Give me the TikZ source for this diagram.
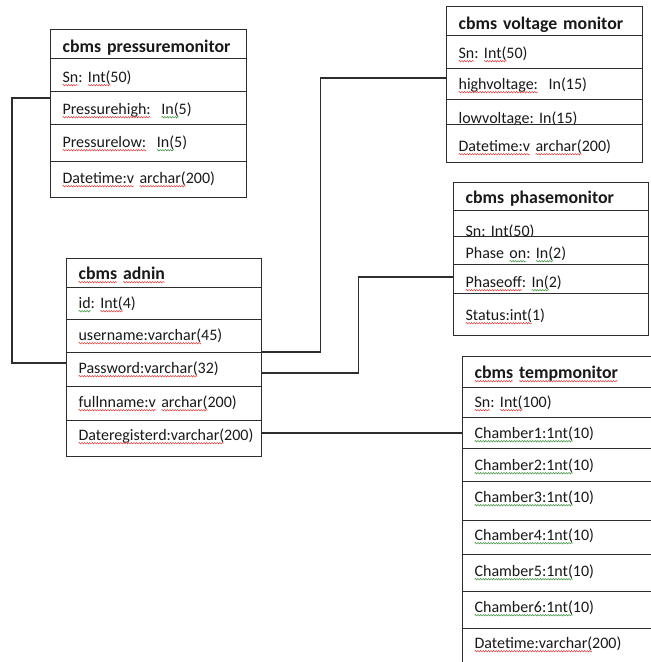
\documentclass[tikz,border=0pt]{standalone}
\usepackage{fontspec}
\setmainfont{Carlito}
\frenchspacing
\usetikzlibrary{decorations.pathmorphing}

\definecolor{linecol}{RGB}{45,45,45}
\definecolor{txtcol}{RGB}{25,25,25}
\definecolor{spellred}{RGB}{215,70,70}
\definecolor{spellgreen}{RGB}{70,150,70}

\tikzset{
  trow/.style={draw=linecol, fill=white, line width=1.2pt, inner xsep=12pt,
    inner ysep=0pt, anchor=north west, align=left, text=txtcol,
    font=\fontsize{16}{19}\selectfont},
  thead/.style={trow, font=\fontsize{17.8}{20}\selectfont\bfseries},
  link/.style={draw=linecol, line width=1.2pt},
  word/.style={inner sep=0pt, outer sep=0pt, text width={}, text height={},
    text depth={}, minimum width=0pt, minimum height=0pt, anchor=center},
  squig/.style={overlay, line width=0.55pt, decorate,
    decoration={snake, amplitude=0.7pt, segment length=2.6pt}}
}

% wavy underline under a word
\newcommand\sqr[1]{\tikz[baseline=(sw.base)]{\node[word](sw){#1};%
  \draw[squig, spellred] ([yshift=-2.6pt]sw.base west) -- ([yshift=-2.6pt]sw.base east);}}
\newcommand\sqg[1]{\tikz[baseline=(sw.base)]{\node[word](sw){#1};%
  \draw[squig, spellgreen] ([yshift=-2.6pt]sw.base west) -- ([yshift=-2.6pt]sw.base east);}}

% table row: name, left x, top y, width, height, baseline offset, text
\newcommand\trow[8][trow]{%
  \pgfmathsetmacro\rowtw{#5-24}%
  \pgfmathsetmacro\rowtd{#6-#7}%
  \node[#1, minimum width=#5pt, minimum height=#6pt, text width=\rowtw pt,
    text height=#7pt, text depth=\rowtd pt] (#2) at (#3,#4) {#8};}

\begin{document}
\begin{tikzpicture}[x=1pt, y=-1pt]
\useasboundingbox (0,0) rectangle (651,662);
\clip (0,0) rectangle (651,662);
\fill[white] (0,0) rectangle (651,662);

% cbms pressuremonitor
\trow[thead]{p0}{50}{29}{196}{29}{23}{cbms pressuremonitor}
\trow{p1}{50}{58}{196}{33}{24}{\sqr{Sn}: \sqr{Int(}50)}
\trow{p2}{50}{91}{196}{33}{23}{\sqr{Pressurehigh:}\ \ \sqg{In(}5)}
\trow{p3}{50}{124}{196}{37}{23}{\sqr{Pressurelow:}\ \ \sqg{In(}5)}
\trow{p4}{50}{161}{196}{36}{22}{\sqr{Datetime:v} \sqr{archar(}200)}

% cbms voltage monitor
\trow[thead]{v0}{446}{6}{196}{29}{23}{cbms voltage monitor}
\trow{v1}{446}{35}{196}{33}{23}{\sqr{Sn}: \sqr{Int(}50)}
\trow{v2}{446}{68}{196}{31}{21}{\sqr{highvoltage:}\ \ In(15)}
\trow{v3}{446}{99}{196}{25}{24}{lowvoltage: In(15)}
\trow{v4}{446}{124}{196}{38}{27}{\sqr{Datetime:v} \sqr{archar(}200)}

% cbms phasemonitor
\trow[thead]{ph0}{453}{182}{195}{28}{21}{cbms phasemonitor}
\trow{ph1}{453}{210}{195}{26}{26}{Sn: Int(50)}
\trow{ph2}{453}{236}{195}{28}{22}{Phase \sqg{on}: \sqg{In(}2)}
\trow{ph3}{453}{264}{195}{29}{23}{\sqr{Phaseoff}: \sqg{In(}2)}
\trow{ph4}{453}{293}{195}{42}{27}{\sqr{Status:int(}1)}

% cbms adnin
\trow[thead]{a0}{66}{258}{195}{29}{21}{\sqr{cbms} \sqr{adnin}}
\trow{a1}{66}{287}{195}{32}{21}{\sqg{id}: \sqr{Int(}4)}
\trow{a2}{66}{319}{195}{33}{21}{\sqr{username:varchar(}45)}
\trow{a3}{66}{352}{195}{34}{21}{\sqr{Password:varchar(}32)}
\trow{a4}{66}{386}{195}{34}{21}{\sqr{fullnname:v} \sqr{archar(}200)}
\trow{a5}{66}{420}{195}{36}{20}{\sqr{Dateregisterd:varchar(}200)}

% cbms tempmonitor
\trow[thead]{t0}{462}{356}{250}{31}{22}{\sqr{cbms} \sqr{tempmonitor}}
\trow{t1}{462}{387}{250}{30}{20}{\sqr{Sn}: \sqr{Int(}100)}
\trow{t2}{462}{417}{250}{31}{21}{\sqg{Chamber1:1nt(}10)}
\trow{t3}{462}{448}{250}{33}{22}{\sqg{Chamber2:1nt(}10)}
\trow{t4}{462}{481}{250}{39}{21}{\sqg{Chamber3:1nt(}10)}
\trow{t5}{462}{520}{250}{34}{20}{\sqg{Chamber4:1nt(}10)}
\trow{t6}{462}{554}{250}{37}{22}{\sqg{Chamber5:1nt(}10)}
\trow{t7}{462}{591}{250}{37}{21}{\sqg{Chamber6:1nt(}10)}
\trow{t8}{462}{628}{250}{52}{20}{\sqr{Datetime:varchar(}200)}

% relationships
\draw[link] ([yshift=-7pt]p2.north west) -- ++(-38,0) |- ([yshift=-11pt]a3.north west);
\draw[link] (a3.north east) -- ++(58,0) |- ([yshift=-10pt]v2.north west);
\draw[link] ([yshift=-21pt]a3.north east) -- ++(96,0) |- ([yshift=-13pt]ph3.north west);
\draw[link] ([yshift=-13pt]a5.north east) -- ([yshift=-16pt]t2.north west);
\end{tikzpicture}
\end{document}
